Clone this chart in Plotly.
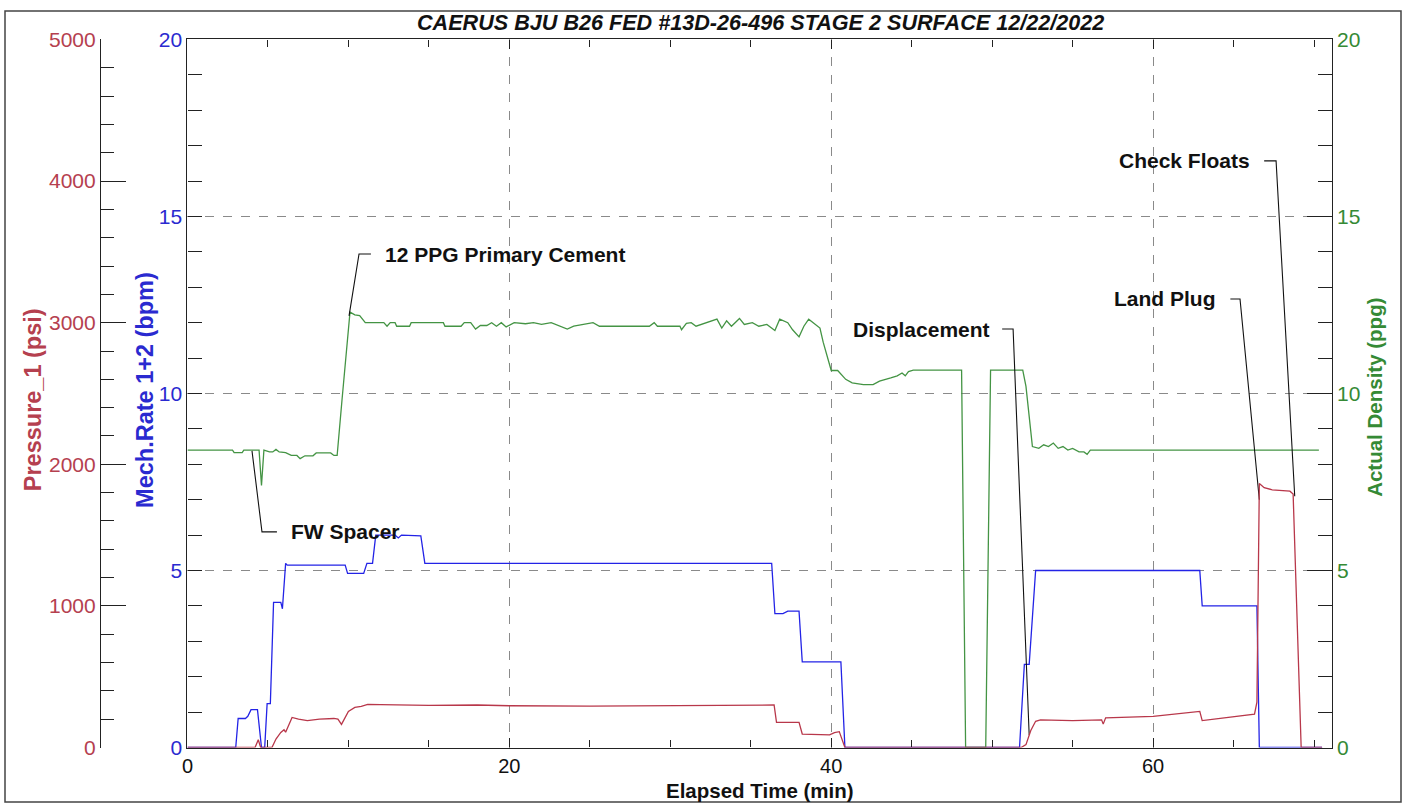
import plotly.graph_objects as go

# ---------------- data ----------------
density_t = [0, 2.8, 2.9, 3.4, 3.5, 4.45, 4.6, 4.75, 5.1, 5.3, 5.5, 5.7, 6.1, 6.45, 6.8, 7.0,
             7.3, 7.8, 8.0, 8.9, 9.1, 9.3, 9.6, 10.1, 10.4, 10.7, 11.05, 12.2, 12.4, 12.6,
             12.9, 13.0, 13.8, 13.9, 15.9, 16.0, 17.0, 17.2, 17.6, 17.9, 18.2, 18.6, 18.9,
             19.2, 19.5, 19.8, 20.3, 21.0, 21.5, 22.0, 22.6, 23.2, 23.6, 24.0, 24.5, 25.2,
             25.6, 28.7, 29.0, 29.2, 30.6, 30.7, 31.0, 31.3, 31.6, 32.2, 32.9, 33.2, 33.5,
             33.8, 34.3, 34.6, 35.1, 35.5, 36.0, 36.5, 36.8, 37.3, 37.6, 38.0, 38.3, 38.6,
             38.9, 39.3, 39.5, 40.0, 40.4, 40.9, 41.3, 42.0, 42.6, 43.0, 43.7, 44.1, 44.4,
             44.6, 44.8, 45.1, 48.1, 48.35, 49.6, 49.9, 51.9, 52.1, 52.5, 52.9, 53.2, 53.5,
             53.8, 54.1, 54.4, 54.7, 55.0, 55.4, 55.7, 55.9, 56.1, 70.3]
density_v = [8.4, 8.4, 8.33, 8.33, 8.4, 8.4, 7.4, 8.4, 8.35, 8.35, 8.42, 8.35, 8.33, 8.25, 8.25, 8.16,
             8.24, 8.24, 8.32, 8.32, 8.25, 8.25, 9.8, 12.3, 12.22, 12.2, 12.0, 12.0, 11.9, 12.0,
             12.0, 11.9, 11.9, 12.0, 12.0, 11.9, 11.9, 12.0, 12.0, 11.82, 11.92, 11.92, 12.0,
             11.9, 12.0, 11.88, 12.0, 11.97, 12.0, 11.95, 12.0, 11.88, 11.82, 11.9, 11.95, 12.0,
             11.9, 11.9, 12.0, 11.9, 11.9, 11.8, 11.98, 12.0, 11.9, 12.0, 12.1, 11.85, 12.05,
             11.9, 12.12, 11.95, 12.0, 11.9, 11.95, 11.78, 12.1, 12.0, 11.8, 11.6, 11.9, 12.1,
             12.0, 11.85, 11.45, 10.65, 10.65, 10.4, 10.3, 10.25, 10.25, 10.35, 10.44, 10.5, 10.58,
             10.5, 10.62, 10.66, 10.66, 0, 0, 10.66, 10.66, 10.2, 8.5, 8.45, 8.55, 8.5,
             8.6, 8.45, 8.5, 8.4, 8.45, 8.35, 8.35, 8.28, 8.4, 8.4]

rate_t = [0, 3.0, 3.15, 3.6, 3.75, 3.95, 4.35, 4.6, 4.8, 4.95, 5.15, 5.35, 5.8, 5.9, 6.1, 6.2,
          9.8, 9.95, 10.95, 11.15, 11.5, 11.7, 12.9, 13.1, 13.3, 14.5, 14.75, 36.3, 36.5, 37.0,
          37.3, 38.0, 38.2, 40.6, 40.85, 51.7, 52.0, 52.3, 52.7, 62.9, 63.05, 66.45, 66.6, 70.5]
rate_v = [0, 0, 0.82, 0.82, 0.88, 1.07, 1.07, 0, 0, 1.24, 1.24, 4.1, 4.1, 3.92, 5.2, 5.15,
          5.15, 4.92, 4.92, 5.2, 5.2, 6.0, 6.0, 5.92, 6.0, 5.98, 5.2, 5.2, 3.78, 3.78,
          3.85, 3.85, 2.42, 2.42, 0, 0, 2.35, 2.35, 5.0, 5.0, 4.0, 4.0, 0, 0]

pressure_t = [0, 4.2, 4.4, 4.55, 5.25, 5.5, 5.8, 6.0, 6.1, 6.5, 6.9, 7.45, 8.2, 9.1, 9.35, 9.57,
              10.0, 10.4, 10.8, 11.2, 12.0, 13.2, 15.0, 18.0, 20.0, 25.0, 30.0, 33.0, 35.0,
              36.45, 36.6, 38.0, 38.2, 39.9, 40.2, 40.5, 40.85, 51.8, 52.1, 52.4, 52.7, 53.0,
              55.0, 56.8, 56.9, 57.05, 60.0, 62.9, 63.05, 66.3, 66.45, 66.6, 66.9, 67.4, 68.5,
              68.7, 69.2, 70.5]
pressure_v = [0, 0, 55, 0, 0, 60, 106, 125, 108, 212, 200, 190, 200, 205, 200, 163,
              255, 283, 290, 305, 303, 300, 298, 300, 295, 292, 297, 298, 300,
              300, 178, 178, 95, 89, 105, 112, 0, 0, 20, 120, 185, 195,
              190, 195, 165, 210, 220, 255, 190, 235, 320, 1865, 1835, 1820, 1810,
              1790, 0, 0]

# event labels: text, text anchor time, text level (density units), stub end time, target time, target level
event_text = ["FW Spacer", "12 PPG Primary Cement", "Displacement", "Land Plug", "Check Floats"]
event_text_t = [6.3, 12.15, 50.0, 64.05, 66.16]
event_side = ["left", "left", "right", "right", "right"]
event_level = [6.09, 13.94, 11.82, 12.67, 16.57]
event_stub_a = [5.56, 11.4, 50.62, 64.8, 66.9]
event_stub_b = [4.63, 10.66, 51.3, 65.4, 67.64]
event_target_t = [4.01, 10.04, 52.3, 66.6, 68.8]
event_target_v = [8.38, 12.19, 0.35, 7.0, 7.1]

x_ticks = [0, 20, 40, 60]

title_text = "CAERUS BJU B26 FED #13D-26-496 STAGE 2 SURFACE 12/22/2022"

# ---------------- styling ----------------
FONT = "Liberation Sans, Arial, sans-serif"
RED_LINE = "#b8374a"
RED_TXT = "#b5404f"
BLUE_LINE = "#2323e6"
BLUE_TXT = "#2a2ad0"
GREEN_LINE = "#449444"
GREEN_TXT = "#358a35"
AX = "#222222"
GRID = "#8a8a8a"

fig = go.Figure()

fig.add_trace(go.Scatter(x=rate_t, y=rate_v, mode="lines", yaxis="y",
                         line=dict(color=BLUE_LINE, width=1.3), showlegend=False, hoverinfo="skip"))
fig.add_trace(go.Scatter(x=density_t, y=density_v, mode="lines", yaxis="y2",
                         line=dict(color=GREEN_LINE, width=1.3), showlegend=False, hoverinfo="skip"))
fig.add_trace(go.Scatter(x=pressure_t, y=pressure_v, mode="lines", yaxis="y3",
                         line=dict(color=RED_LINE, width=1.3), showlegend=False, hoverinfo="skip"))

# leader lines for the event labels
for i in range(len(event_text)):
    fig.add_trace(go.Scatter(
        x=[event_stub_a[i], event_stub_b[i], event_target_t[i]],
        y=[event_level[i], event_level[i], event_target_v[i]],
        mode="lines", yaxis="y2", line=dict(color="#111111", width=1.1),
        showlegend=False, hoverinfo="skip"))

annotations = []
for i in range(len(event_text)):
    annotations.append(dict(
        x=event_text_t[i], y=event_level[i], xref="x", yref="y2",
        text=event_text[i], showarrow=False, xanchor=event_side[i], yanchor="middle",
        font=dict(family=FONT, size=21, color="#111111", weight="bold")))

annotations += [
    dict(x=0.5415, y=0.986, xref="paper", yref="paper", text=title_text, showarrow=False,
         xanchor="center", yanchor="middle",
         font=dict(family=FONT, size=21.6, color="#111111", weight="bold", style="italic")),
    dict(x=0.0201, y=0.508, xref="paper", yref="paper", text="Pressure_1 (psi)", showarrow=False,
         textangle=-90, xanchor="center", yanchor="middle",
         font=dict(family=FONT, size=23.5, color=RED_TXT, weight="bold")),
    dict(x=0.1003, y=0.521, xref="paper", yref="paper", text="Mech.Rate 1+2 (bpm)", showarrow=False,
         textangle=-90, xanchor="center", yanchor="middle",
         font=dict(family=FONT, size=23.5, color=BLUE_TXT, weight="bold")),
    dict(x=0.9814, y=0.511, xref="paper", yref="paper", text="Actual Density (ppg)", showarrow=False,
         textangle=-90, xanchor="center", yanchor="middle",
         font=dict(family=FONT, size=20.5, color=GREEN_TXT, weight="bold")),
    dict(x=0.5408, y=0.0145, xref="paper", yref="paper", text="Elapsed Time (min)", showarrow=False,
         xanchor="center", yanchor="middle",
         font=dict(family=FONT, size=20.5, color="#111111", weight="bold")),
]

fig.update_layout(
    width=1409, height=804,
    margin=dict(l=5, r=8, t=11, b=2),
    paper_bgcolor="white", plot_bgcolor="white",
    showlegend=False,
    annotations=annotations,
    shapes=[dict(type="rect", xref="paper", yref="paper", x0=0, x1=1, y0=0, y1=1,
                 line=dict(color="#444444", width=1.5))],
    xaxis=dict(
        domain=[0.1307, 0.9504], range=[0, 71.1],
        tickvals=x_ticks, ticktext=[str(v) for v in x_ticks],
        ticks="inside", ticklen=9, tickcolor=AX, tickwidth=1,
        minor=dict(dtick=5, ticks="inside", ticklen=7, tickcolor=AX, showgrid=False),
        showline=True, linecolor=AX, linewidth=1.3, mirror="ticks",
        showgrid=True, gridcolor=GRID, griddash="dash", gridwidth=1,
        zeroline=False, automargin=False,
        tickfont=dict(family=FONT, size=20, color="#111111"),
    ),
    yaxis=dict(
        domain=[0.0689, 0.9640], range=[0, 20], dtick=5, tick0=0,
        ticks="inside", ticklen=14, tickcolor=AX,
        minor=dict(dtick=1, ticks="inside", ticklen=14, tickcolor=AX, showgrid=False),
        showline=True, linecolor=AX, linewidth=1.3,
        showgrid=True, gridcolor=GRID, griddash="dash", gridwidth=1,
        zeroline=False, automargin=False,
        tickfont=dict(family=FONT, size=21, color=BLUE_TXT),
    ),
    yaxis2=dict(
        overlaying="y", side="right", anchor="x", range=[0, 20], dtick=5, tick0=0,
        ticks="inside", ticklen=25, tickcolor=AX,
        minor=dict(dtick=1, ticks="inside", ticklen=14, tickcolor=AX, showgrid=False),
        showline=True, linecolor=AX, linewidth=1.3,
        showgrid=False, zeroline=False, automargin=False,
        tickfont=dict(family=FONT, size=21, color=GREEN_TXT),
    ),
    yaxis3=dict(
        overlaying="y", side="left", anchor="free", position=0.0681,
        range=[0, 5000], dtick=1000, tick0=0,
        ticks="inside", ticklen=25, tickcolor=AX,
        minor=dict(dtick=200, ticks="inside", ticklen=13, tickcolor=AX, showgrid=False),
        showline=True, linecolor=AX, linewidth=1.3,
        showgrid=False, zeroline=False, automargin=False,
        tickfont=dict(family=FONT, size=21, color=RED_TXT),
    ),
)

fig.write_html(
    "out.html",
    config={"displayModeBar": False},
    post_script="document.body.style.margin='0px';document.body.style.overflow='hidden';",
)
